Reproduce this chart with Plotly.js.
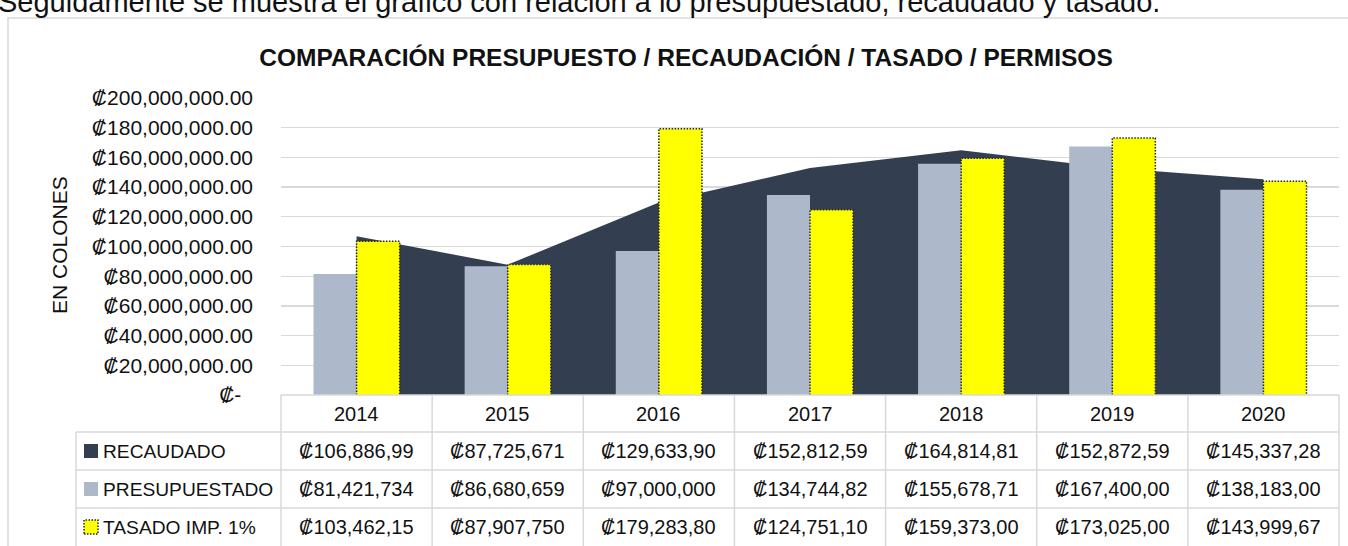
<!DOCTYPE html>
<html><head><meta charset="utf-8">
<script src="https://cdn.plot.ly/plotly-3.0.1.min.js"></script>
<style>html,body{margin:0;padding:0;background:#fff;}#chart{width:1348px;height:546px;}</style>
</head><body><div id="chart"></div>
<script>
// ---- data ----
const years = [2014, 2015, 2016, 2017, 2018, 2019, 2020];
const recaudado = [106886990, 87725671, 129633900, 152812590, 164814810, 152872590, 145337280];
const presupuestado = [81421734, 86680659, 97000000, 134744820, 155678710, 167400000, 138183000];
const tasado = [103462150, 87907750, 179283800, 124751100, 159373000, 173025000, 143999670];
const recaudadoLabels = ['₡106,886,99', '₡87,725,671', '₡129,633,90', '₡152,812,59', '₡164,814,81', '₡152,872,59', '₡145,337,28'];
const presupuestadoLabels = ['₡81,421,734', '₡86,680,659', '₡97,000,000', '₡134,744,82', '₡155,678,71', '₡167,400,00', '₡138,183,00'];
const tasadoLabels = ['₡103,462,15', '₡87,907,750', '₡179,283,80', '₡124,751,10', '₡159,373,00', '₡173,025,00', '₡143,999,67'];
const seriesNames = ['RECAUDADO', 'PRESUPUESTADO', 'TASADO IMP. 1%'];
const yTickVals = [0, 20000000, 40000000, 60000000, 80000000, 100000000, 120000000, 140000000, 160000000, 180000000, 200000000];
const yTickText = ['₡-\u00a0\u00a0', '₡20,000,000.00', '₡40,000,000.00', '₡60,000,000.00', '₡80,000,000.00', '₡100,000,000.00', '₡120,000,000.00', '₡140,000,000.00', '₡160,000,000.00', '₡180,000,000.00', '₡200,000,000.00'];
const chartTitle = 'COMPARACIÓN PRESUPUESTO / RECAUDACIÓN / TASADO / PERMISOS';
const yTitle = 'EN COLONES';
const topSentence = 'Seguidamente se muestra el gráfico con relación a lo presupuestado, recaudado y tasado.';

// ---- styling / geometry ----
const FONT = 'Liberation Sans, Arial, sans-serif';
const C_DARK = '#333f50', C_GREY = '#adb9ca', C_YEL = '#ffff00', C_LINE = '#d9d9d9', C_DOT = '#1f2733';
const W = 1348, H = 546, L = 281, R = 1339, T = 98, B = 395;
const px = x => (x - L) / (R - L);
const py = y => (B - y) / (B - T);
const xr = [years[0] - 0.5, years[years.length - 1] + 0.5];
const BW = 0.285;

// dotted outline of yellow bars, built from the data
const ox = [], oy = [];
years.forEach((yr, i) => { ox.push(yr, yr, yr + BW, yr + BW, null); oy.push(0, tasado[i], tasado[i], 0, null); });

const traces = [
  { type: 'scatter', x: years, y: recaudado, mode: 'lines', fill: 'tozeroy', fillcolor: C_DARK,
    line: { width: 0, color: C_DARK }, name: seriesNames[0], hoverinfo: 'skip' },
  { type: 'bar', x: years, y: presupuestado, xaxis: 'x2', yaxis: 'y2', width: BW, offset: -BW,
    marker: { color: C_GREY, line: { width: 0 } }, name: seriesNames[1] },
  { type: 'bar', x: years, y: tasado, xaxis: 'x2', yaxis: 'y2', width: BW, offset: 0,
    marker: { color: C_YEL, line: { width: 0 } }, name: seriesNames[2] },
  { type: 'scatter', x: ox, y: oy, xaxis: 'x2', yaxis: 'y2', mode: 'lines', connectgaps: false,
    line: { color: C_DOT, width: 1.5, dash: '1.5px,1.5px' }, hoverinfo: 'skip', showlegend: false }
];

const shapes = [];
const ln = (x0, y0, x1, y1) => shapes.push({ type: 'line', xref: 'paper', yref: 'paper',
  x0: px(x0), y0: py(y0), x1: px(x1), y1: py(y1), line: { color: C_LINE, width: 1.5 }, layer: 'above' });
// outer chart frame
shapes.push({ type: 'rect', xref: 'paper', yref: 'paper', x0: px(8), x1: px(1360), y0: py(600), y1: py(18),
  line: { color: C_LINE, width: 1.5 }, fillcolor: 'rgba(0,0,0,0)', layer: 'below' });
// data table grid
const rowY = [395, 432, 470, 508, 546];
ln(L, rowY[0], R, rowY[0]);
for (let k = 1; k < 4; k++) ln(76, rowY[k], R, rowY[k]);
ln(76, rowY[1], 76, 560);
for (let k = 0; k <= years.length; k++) {
  const xx = L + k * (R - L) / years.length;
  ln(xx, rowY[0], xx, 560);
}
// legend keys
const keyY = [451, 489, 527];
const keyColors = [C_DARK, C_GREY, C_YEL];
keyY.forEach((cy, i) => {
  shapes.push({ type: 'rect', xref: 'paper', yref: 'paper', x0: px(84), x1: px(98), y0: py(cy + 7), y1: py(cy - 7),
    fillcolor: keyColors[i], line: i === 2 ? { color: C_DOT, width: 1.5, dash: '1.5px,1.5px' } : { width: 0 }, layer: 'above' });
});

const annotations = [];
const tf = { family: FONT, size: 20, color: '#111' };
years.forEach((yr, i) => {
  annotations.push({ x: yr, xref: 'x', y: py(413.5), yref: 'paper', text: String(yr), showarrow: false, font: tf, xanchor: 'center', yanchor: 'middle' });
  [recaudadoLabels, presupuestadoLabels, tasadoLabels].forEach((arr, r) => {
    annotations.push({ x: yr, xref: 'x', y: py(keyY[r]), yref: 'paper', text: arr[i], showarrow: false, font: tf, xanchor: 'center', yanchor: 'middle' });
  });
});
seriesNames.forEach((n, r) => {
  annotations.push({ x: px(101), xref: 'paper', y: py(keyY[r]), yref: 'paper', text: n, showarrow: false,
    font: { family: FONT, size: 19.2, color: '#111' }, xanchor: 'left', yanchor: 'middle' });
});
annotations.push({ x: px(59), xref: 'paper', y: py(245), yref: 'paper', text: yTitle, textangle: -90, showarrow: false,
  font: { family: FONT, size: 21, color: '#111' }, xanchor: 'center', yanchor: 'middle' });
annotations.push({ x: px(-3), xref: 'paper', y: py(19), yref: 'paper', text: topSentence, showarrow: false,
  font: { family: FONT, size: 29, color: '#111' }, xanchor: 'left', yanchor: 'bottom', borderpad: 0 });

const layout = {
  width: W, height: H, margin: { l: L, r: W - R, t: T, b: H - B, pad: 0 },
  paper_bgcolor: '#fff', plot_bgcolor: '#fff', showlegend: false, barmode: 'overlay',
  title: { text: '<b>' + chartTitle + '</b>', x: 686 / W, xanchor: 'center', y: 1 - 57 / H, yanchor: 'middle',
    xref: 'container', yref: 'container', font: { family: FONT, size: 24.5, color: '#111' } },
  xaxis: { type: 'linear', range: xr, showticklabels: false, showgrid: false, zeroline: false, showline: false, ticks: '' },
  yaxis: { range: [0, 200000000], tickvals: yTickVals, ticktext: yTickText, showgrid: true, gridcolor: C_LINE, gridwidth: 1.3,
    zeroline: false, showline: false, ticks: '', ticklabelstandoff: 27, tickfont: { family: FONT, size: 21, color: '#111' } },
  xaxis2: { type: 'linear', range: xr, overlaying: 'x', anchor: 'y2', visible: false },
  yaxis2: { range: [0, 200000000], overlaying: 'y', anchor: 'x2', visible: false },
  shapes: shapes, annotations: annotations
};
Plotly.newPlot('chart', traces, layout, { displayModeBar: false, staticPlot: true });
</script></body></html>
